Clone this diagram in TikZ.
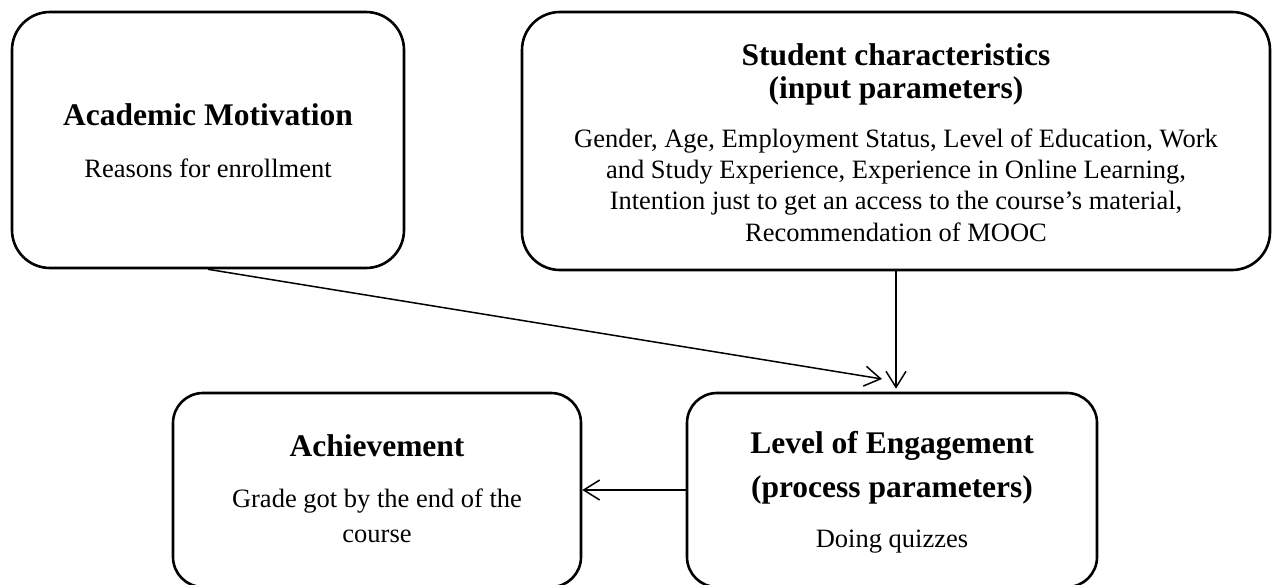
\documentclass[tikz,border=0pt]{standalone}
\usepackage{fontspec}
\setmainfont{Liberation Serif}
\usetikzlibrary{positioning,arrows.meta}

\begin{document}
\begin{tikzpicture}[x=1pt,y=-1pt,
                    box node/.style={draw,line width=2.6pt,rounded corners=#1,inner sep=0pt},
                    box node/.default=38pt,
                    title node/.style={font=\bfseries\fontsize{31.5}{33}\selectfont,align=center,anchor=base},
                    body node/.style={font=\fontsize{26.5}{31.3}\selectfont,align=center,anchor=base},
                    link/.style={line width=1.5pt,-{Straight Barb[length=16pt,width=20pt,line width=1.5pt]}}]
  \useasboundingbox (0,0) rectangle (1281,584);
  \clip (0,0) rectangle (1281,584);

  % boxes
  \node[box node,minimum width=392pt,minimum height=256pt] (am) at (208,140) {};
  \node[box node,minimum width=748pt,minimum height=258pt] (sc) at (896,141) {};
  \node[box node=30pt,minimum width=408pt,minimum height=194pt] (ach) at (377,490) {};
  \node[box node=30pt,minimum width=410pt,minimum height=194pt] (eng) at (892,490) {};

  % texts (base = last line)
  \node[title node] (am title) at (208,125) {Academic Motivation};
  \node[body node] (am body) at (208,177) {Reasons for enrollment};
  \node[title node] (sc title) at (896,98) {Student characteristics\\(input parameters)};
  \node[body node] (sc body) at (896,241) {Gender, Age, Employment Status, Level of Education, Work\\
    and Study Experience, Experience in Online Learning,\\
    Intention just to get an access to the course’s material,\\
    Recommendation of MOOC};
  \node[title node] (ach title) at (377,456) {Achievement};
  \node[body node,font=\fontsize{26.5}{35}\selectfont] (ach body) at (377,542) {Grade got by the end of the\\course};
  \node[title node,font=\bfseries\fontsize{31.5}{44}\selectfont] (eng title) at (892,497) {Level of Engagement\\(process parameters)};
  \node[body node] (eng body) at (892,547) {Doing quizzes};

  \coordinate (eng in) at (882,379);

  \draw[link] (am.south) -- (eng in);
  \draw[link,shorten >=3pt] (sc.south) -- (sc.south |- eng.north);
  \draw[link] (eng.west) -- (ach.east);

\end{tikzpicture}
\end{document}
